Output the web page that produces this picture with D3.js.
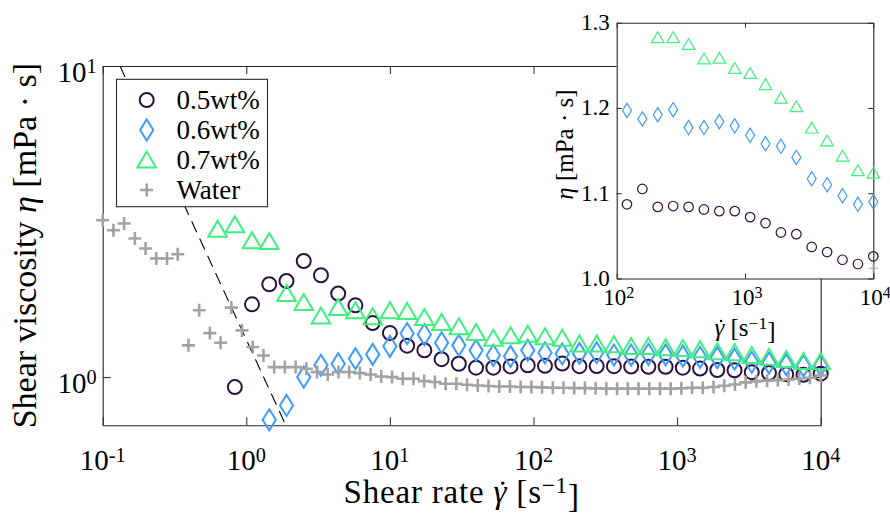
<!DOCTYPE html>
<html>
<head>
<meta charset="utf-8">
<script src="https://cdn.jsdelivr.net/npm/d3@7"></script>
<style>
  body { margin: 0; background: #fff; }
  text { font-family: "Liberation Serif", "Times New Roman", serif; fill: #000; }
</style>
</head>
<body>
<svg id="chart" width="890" height="514"></svg>
<script>
// ---- data -------------------------------------------------------------
// shear rates of the polymer sweeps [1/s]
const polymerRates = [0.631, 0.832, 1.096, 1.445, 1.905, 2.512, 3.311, 4.365, 5.754, 7.586,
  10.0, 13.18, 17.38, 22.91, 30.20, 39.81, 52.48, 69.18, 91.20, 120.2,
  158.5, 208.9, 275.4, 363.1, 478.6, 631.0, 831.8, 1096, 1445, 1905,
  2512, 3311, 4365, 5754, 7586, 10000];
// viscosity [mPa s]
const eta05 = [null, 0.929, 1.714, 1.988, 2.037, 2.362, 2.125, 1.855, 1.701, 1.492,
  1.385, 1.262, 1.219, 1.142, 1.104, 1.072, 1.072, 1.082, 1.091, 1.087,
  1.105, 1.084, 1.085, 1.084, 1.081, 1.079, 1.079, 1.072, 1.065, 1.054,
  1.052, 1.037, 1.031, 1.022, 1.017, 1.026];
const eta06 = [null, null, null, 0.729, 0.811, 1.000, 1.091, 1.104, 1.146, 1.183,
  1.256, 1.380, 1.370, 1.290, 1.265, 1.219, 1.175, 1.166, 1.219, 1.197,
  1.187, 1.192, 1.198, 1.177, 1.177, 1.184, 1.179, 1.168, 1.158, 1.155,
  1.142, 1.117, 1.110, 1.097, 1.087, 1.090];
const eta07 = [3.00, 3.10, 2.754, 2.74, 1.864, 1.743, 1.579, 1.680, 1.640, 1.568,
  1.640, 1.631, 1.560, 1.503, 1.456, 1.396, 1.339, 1.362, 1.379, 1.352,
  1.339, 1.283, 1.283, 1.275, 1.258, 1.259, 1.247, 1.241, 1.228, 1.212,
  1.202, 1.177, 1.162, 1.144, 1.127, 1.124];
// water reference sweep
const waterRates = [0.100, 0.1188, 0.1410, 0.1675, 0.1989, 0.2361, 0.2804, 0.3330, 0.3954, 0.4695,
  0.5576, 0.6621, 0.7862, 0.9336, 1.109, 1.317, 1.563, 1.856, 2.205, 2.618,
  3.109, 3.691, 4.384, 5.205, 6.181, 7.340, 8.716, 10.35, 12.29, 14.60,
  17.33, 20.58, 24.44, 29.02, 34.46, 40.93, 48.60, 57.71, 68.53, 81.38,
  96.62, 114.7, 136.3, 161.8, 192.1, 228.2, 270.9, 321.7, 382.0, 453.7,
  538.7, 639.7, 759.6, 902.1, 1071, 1272, 1510, 1794, 2130, 2529,
  3003, 3566, 4235, 5029, 5972, 7092, 8421, 10000];
const etaWater = [3.193, 2.966, 3.117, 2.789, 2.590, 2.405, 2.405, 2.483, 1.265, 1.640,
  1.385, 1.290, 1.673, 1.413, 1.249, 1.174, 1.077, 1.077, 1.077, 1.064,
  1.038, 1.020, 1.038, 1.038, 1.030, 1.020, 1.005, 1.000, 0.988, 0.988,
  0.971, 0.964, 0.952, 0.952, 0.945, 0.940, 0.936, 0.933, 0.933, 0.929,
  0.929, 0.927, 0.924, 0.924, 0.922, 0.922, 0.920, 0.918, 0.918, 0.918,
  0.918, 0.918, 0.918, 0.918, 0.920, 0.924, 0.924, 0.929, 0.938, 0.947,
  0.962, 0.969, 0.974, 0.978, 0.983, 0.990, 0.995, 1.012];
// minimum measurable viscosity (torque limit), eta = C / rate
const torqueLimit = [{ rate: 0.132, eta: 10 }, { rate: 1.886, eta: 0.7 }];

const seriesNames = ["0.5wt%", "0.6wt%", "0.7wt%", "Water"];
const seriesColors = ["#2b1240", "#3f9bff", "#3ff07e", "#a3a3a3"];
const seriesShapes = ["circle", "diamond", "triangle", "plus"];

// axis ticks
const mainXExps = [-1, 0, 1, 2, 3, 4];
const mainYExps = [0, 1];
const insetXExps = [2, 3, 4];
const insetYTicks = [1.0, 1.1, 1.2, 1.3];

// ---- layout -----------------------------------------------------------
const svg = d3.select("#chart");
svg.append("rect").attr("width", 890).attr("height", 514).attr("fill", "#fff");

const M = { left: 102.7, right: 820.7, top: 66, bottom: 425.3 };
const I = { left: 616.7, right: 873.3, top: 22.7, bottom: 278.5 };
const axisColor = "#262626";

const x = d3.scaleLog().domain([0.1, 1e4]).range([M.left, M.right]);
const y = d3.scaleLog().domain([0.7, 10]).range([M.bottom, M.top]);
const xi = d3.scaleLog().domain([100, 1e4]).range([I.left, I.right]);
const yi = d3.scaleLinear().domain([1.0, 1.3]).range([I.bottom, I.top]);

const series = [
  { name: seriesNames[0], rates: polymerRates, etas: eta05 },
  { name: seriesNames[1], rates: polymerRates, etas: eta06 },
  { name: seriesNames[2], rates: polymerRates, etas: eta07 },
  { name: seriesNames[3], rates: waterRates, etas: etaWater }
].map((s, i) => ({
  ...s, color: seriesColors[i], shape: seriesShapes[i],
  points: s.rates.map((r, j) => ({ rate: r, eta: s.etas[j] })).filter(p => p.eta != null)
}));

// marker outline paths, centred on (0,0)
function markerPath(shape, k) {
  switch (shape) {
    case "circle": return d3.arc()({ innerRadius: 0, outerRadius: 7 * k, startAngle: 0, endAngle: 2 * Math.PI });
    case "diamond": return `M0,${-10.5 * k}L${6.6 * k},0L0,${10.5 * k}L${-6.6 * k},0Z`;
    case "triangle": return `M0,${-8 * k}L${9.3 * k},${8 * k}L${-9.3 * k},${8 * k}Z`;
    case "plus": return `M${-6.5 * k},0H${6.5 * k}M0,${-6.5 * k}V${6.5 * k}`;
  }
}
const markerStroke = { circle: 2, diamond: 2, triangle: 2, plus: 2.6 };

function drawMarkers(g, s, xs, ys, scale, sw) {
  const [x0, x1] = xs.domain(), [y0, y1] = ys.domain();
  g.append("g").selectAll("path")
    .data(s.points.filter(p => p.rate >= x0 * 0.999 && p.rate <= x1 * 1.001 && p.eta >= y0 && p.eta <= y1))
    .join("path")
    .attr("d", markerPath(s.shape, scale))
    .attr("transform", p => `translate(${xs(p.rate)},${ys(p.eta)})`)
    .attr("fill", "none")
    .attr("stroke", s.color)
    .attr("stroke-width", sw ? sw(s.shape) : markerStroke[s.shape]);
}

// "10^n" style label inside a text element
function powerLabel(textSel, exp) {
  textSel.text(null);
  textSel.append("tspan").text("10");
  textSel.append("tspan").attr("dy", "-0.42em").attr("font-size", "0.7em").text(String(exp));
}

// italic gamma followed by the unit "[s^-1]"; the overdot is drawn as a small circle
function rateSymbolWithUnit(textSel) {
  textSel.append("tspan").attr("font-style", "italic").text("\u03B3");
  textSel.append("tspan").text(" [s");
  textSel.append("tspan").attr("dy", "-0.42em").attr("font-size", "0.7em").text("\u22121");
  textSel.append("tspan").attr("dy", "0.42em").text("]");
}
function addOverdot(textSel, charIndex, fontSize) {
  const node = textSel.node();
  const s = node.getStartPositionOfChar(charIndex);
  const e = node.getEndPositionOfChar(charIndex);
  d3.select(node.parentNode).append("circle")
    .attr("cx", (s.x + e.x) / 2 + 0.07 * fontSize)
    .attr("cy", s.y - 0.6 * fontSize)
    .attr("r", 0.05 * fontSize)
    .attr("fill", "#000");
}

// draws one side of a box axis with inward ticks
function boxAxis(parent, axisFn, scale, majors, minors, majLen, minLen, transform) {
  const g = parent.append("g").attr("transform", transform);
  g.call(axisFn(scale).tickValues(minors).tickSizeInner(-minLen).tickSizeOuter(0).tickFormat(""));
  g.call(axisFn(scale).tickValues(majors).tickSizeInner(-majLen).tickSizeOuter(0).tickFormat(""));
  g.selectAll("path.domain").attr("stroke", axisColor).attr("stroke-width", 1.1);
  g.selectAll(".tick line").attr("stroke", axisColor).attr("stroke-width", 1);
  g.selectAll(".tick text").remove();
  return g;
}

// ---- main axes --------------------------------------------------------
const mainG = svg.append("g");
const xMajors = mainXExps.map(e => Math.pow(10, e));
const xMinors = x.ticks().filter(t => !xMajors.some(m => Math.abs(m - t) / m < 1e-6));
const yMajors = mainYExps.map(e => Math.pow(10, e));
const yMinors = y.ticks().filter(t => !yMajors.some(m => Math.abs(m - t) / m < 1e-6) && t > 0.7 + 1e-9);

boxAxis(mainG, d3.axisBottom, x, xMajors, xMinors, 8, 4.5, `translate(0,${M.bottom})`);
boxAxis(mainG, d3.axisTop, x, xMajors, xMinors, 8, 4.5, `translate(0,${M.top})`);
boxAxis(mainG, d3.axisLeft, y, yMajors, yMinors, 8, 4.5, `translate(${M.left},0)`);
boxAxis(mainG, d3.axisRight, y, yMajors, yMinors, 8, 4.5, `translate(${M.right},0)`);

// tick labels
mainG.append("g").selectAll("text").data(mainXExps).join("text")
  .attr("x", e => x(Math.pow(10, e))).attr("y", M.bottom + 45)
  .attr("text-anchor", "middle").attr("font-size", 29)
  .each(function (e) { powerLabel(d3.select(this), e); });
mainG.append("g").selectAll("text").data(mainYExps).join("text")
  .attr("x", M.left - 6).attr("y", e => y(Math.pow(10, e)) + 15.5)
  .attr("text-anchor", "end").attr("font-size", 29)
  .each(function (e) { powerLabel(d3.select(this), e); });

// axis titles
const xTitleSize = 33;
const xTitle = mainG.append("text").attr("x", (M.left + M.right) / 2).attr("y", 503)
  .attr("text-anchor", "middle").attr("font-size", xTitleSize).attr("letter-spacing", 0.8);
xTitle.append("tspan").text("Shear rate ");
rateSymbolWithUnit(xTitle);
addOverdot(xTitle, "Shear rate ".length, xTitleSize);

const yTitle = mainG.append("text")
  .attr("transform", `translate(36,${(M.top + M.bottom) / 2}) rotate(-90)`)
  .attr("text-anchor", "middle").attr("font-size", 34);
yTitle.append("tspan").text("Shear viscosity ");
yTitle.append("tspan").attr("font-style", "italic").text("\u03B7");
yTitle.append("tspan").text(" [mPa \u00B7 s]");

// torque-limit line
const limitLine = d3.line().x(d => x(d.rate)).y(d => y(d.eta));
mainG.append("path").attr("d", limitLine(torqueLimit))
  .attr("fill", "none").attr("stroke", "#000").attr("stroke-width", 1.1)
  .attr("stroke-dasharray", "12,7");

// data
series.forEach(s => drawMarkers(mainG, s, x, y, 1));

// legend
const leg = mainG.append("g");
leg.append("rect").attr("x", 116.5).attr("y", 79.3).attr("width", 151).attr("height", 127.4)
  .attr("fill", "#fff").attr("stroke", axisColor).attr("stroke-width", 1.1);
const legRows = [100, 130, 159.5, 190];
series.forEach((s, i) => {
  leg.append("path").attr("d", markerPath(s.shape, 1))
    .attr("transform", `translate(146.7,${legRows[i]})`)
    .attr("fill", "none").attr("stroke", s.color).attr("stroke-width", markerStroke[s.shape]);
  leg.append("text").attr("x", 176.5).attr("y", legRows[i] + 9)
    .attr("font-size", 27).text(s.name);
});

// ---- inset ------------------------------------------------------------
const inG = svg.append("g");
inG.append("rect").attr("x", I.left).attr("y", I.top)
  .attr("width", I.right - I.left).attr("height", I.bottom - I.top).attr("fill", "#fff");

const ixMajors = insetXExps.map(e => Math.pow(10, e));
const ixMinors = xi.ticks().filter(t => !ixMajors.some(m => Math.abs(m - t) / m < 1e-6));
const iyMinors = d3.range(100, 131).map(v => v / 100).filter(v => !insetYTicks.some(t => Math.abs(t - v) < 1e-6));

boxAxis(inG, d3.axisBottom, xi, ixMajors, ixMinors, 5, 3, `translate(0,${I.bottom})`);
boxAxis(inG, d3.axisTop, xi, ixMajors, ixMinors, 5, 3, `translate(0,${I.top})`);
boxAxis(inG, d3.axisLeft, yi, insetYTicks, iyMinors, 5, 3, `translate(${I.left},0)`);
boxAxis(inG, d3.axisRight, yi, insetYTicks, iyMinors, 5, 3, `translate(${I.right},0)`);

inG.append("g").selectAll("text").data(insetXExps).join("text")
  .attr("x", e => xi(Math.pow(10, e)) + 2).attr("y", I.bottom + 26.5)
  .attr("text-anchor", "middle").attr("font-size", 23)
  .each(function (e) { powerLabel(d3.select(this), e); });
inG.append("g").selectAll("text").data(insetYTicks).join("text")
  .attr("x", I.left - 7).attr("y", v => yi(v) + 7.5)
  .attr("text-anchor", "end").attr("font-size", 23)
  .text(d3.format(".1f"));

const ixTitleSize = 25;
const ixTitle = inG.append("text").attr("x", (I.left + I.right) / 2).attr("y", 336)
  .attr("text-anchor", "middle").attr("font-size", ixTitleSize);
rateSymbolWithUnit(ixTitle);
addOverdot(ixTitle, 0, ixTitleSize);

const iyTitle = inG.append("text")
  .attr("transform", `translate(573,${(I.top + I.bottom) / 2 - 6}) rotate(-90)`)
  .attr("text-anchor", "middle").attr("font-size", 25);
iyTitle.append("tspan").attr("font-style", "italic").text("\u03B7");
iyTitle.append("tspan").text(" [mPa \u00B7 s]");

series.forEach(s => drawMarkers(inG, s, xi, yi, 0.68, () => 1.2));
</script>
</body>
</html>
